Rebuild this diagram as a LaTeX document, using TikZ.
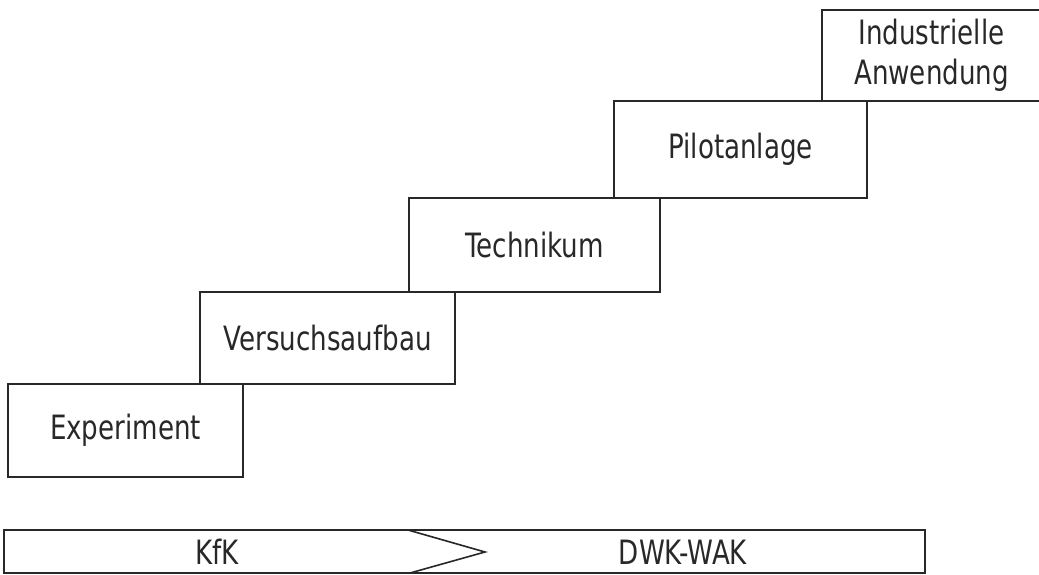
\documentclass[tikz,border=0pt]{standalone}
\usepackage{fontspec}
\setmainfont{DejaVu Sans}[FakeStretch=0.78]
\usepackage{tikz}
\usetikzlibrary{positioning}
\definecolor{plotink}{RGB}{40,40,40}

\begin{document}
\begin{tikzpicture}[x=1pt, y=-1pt,
  stufe/.style={rectangle, draw=plotink, line width=1.6pt, inner sep=0pt, outer sep=0pt,
                align=center, text=plotink, font=\fontsize{33.5}{40}\selectfont},
  band/.style={rectangle, draw=plotink, line width=1.6pt, inner sep=0pt, outer sep=0pt,
               minimum width=921pt, minimum height=43pt},
  lbl/.style={text=plotink, font=\fontsize{33.5}{40}\selectfont, inner sep=0pt}]
\useasboundingbox (0,0) rectangle (1039,575);

% the steps, lowest first
\node[stufe, minimum width=235pt, minimum height=93pt] (exp)   at (125.5,430.5) {Experiment};
\node[stufe, minimum width=255pt, minimum height=92pt] (vers)  at (327.5,338)   {Versuchsaufbau};
\node[stufe, minimum width=251pt, minimum height=94pt] (tech)  at (534.5,245)   {Technikum};
\node[stufe, minimum width=253pt, minimum height=97pt] (pilot) at (740.5,149.5) {Pilotanlage};
\node[stufe, minimum width=219pt, minimum height=91pt] (indus) at (931.5,55.5)  {Industrielle\\Anwendung};

% who does what
\node[band] (org) at (464.5,551.5) {};
\coordinate (tip) at (485,552);
\draw[plotink, line width=1.6pt] (408,530) -- (tip) -- (410,573);
\node[lbl] (kfk) at (217,552) {KfK};
\node[lbl] (dwk) at (683,552) {DWK-WAK};
\end{tikzpicture}
\end{document}
